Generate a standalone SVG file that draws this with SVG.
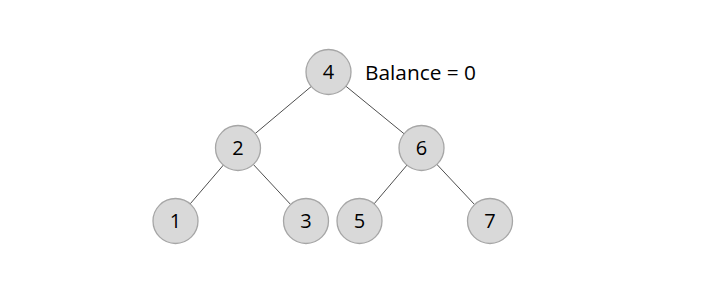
<svg xmlns="http://www.w3.org/2000/svg" width="701" height="300" viewBox="0 0 701 300">
<style>
.n circle{fill:#d9d9d9;stroke:#a6a6a6;stroke-width:1.3}
.n text,.lbl{font-family:"Open Sans","Liberation Sans",sans-serif;font-size:20px;fill:#000}
.n text{text-anchor:middle}
.e line{stroke:#3a3a3a;stroke-width:0.9}
</style>
<rect width="701" height="300" fill="#fff"/>
<g id="connectors" class="e">
<line x1="328.5" y1="72" x2="238" y2="148"/>
<line x1="328.5" y1="72" x2="421.5" y2="148"/>
<line x1="238" y1="148" x2="175.5" y2="221"/>
<line x1="238" y1="148" x2="306" y2="221"/>
<line x1="421.5" y1="148" x2="359.5" y2="221"/>
<line x1="421.5" y1="148" x2="490" y2="221"/>
</g>
<g id="n4" class="n"><circle cx="328.5" cy="72" r="22.5"/><text x="328.5" y="79">4</text></g>
<g id="n2" class="n"><circle cx="238" cy="148" r="22.5"/><text x="238" y="155">2</text></g>
<g id="n6" class="n"><circle cx="421.5" cy="148" r="22.5"/><text x="421.5" y="155">6</text></g>
<g id="n1" class="n"><circle cx="175.5" cy="221" r="22.5"/><text x="175.5" y="228">1</text></g>
<g id="n3" class="n"><circle cx="306" cy="221" r="22.5"/><text x="306" y="228">3</text></g>
<g id="n5" class="n"><circle cx="359.5" cy="221" r="22.5"/><text x="359.5" y="228">5</text></g>
<g id="n7" class="n"><circle cx="490" cy="221" r="22.5"/><text x="490" y="228">7</text></g>
<text class="lbl" x="365" y="80" textLength="111" lengthAdjust="spacingAndGlyphs">Balance = 0</text>
</svg>
